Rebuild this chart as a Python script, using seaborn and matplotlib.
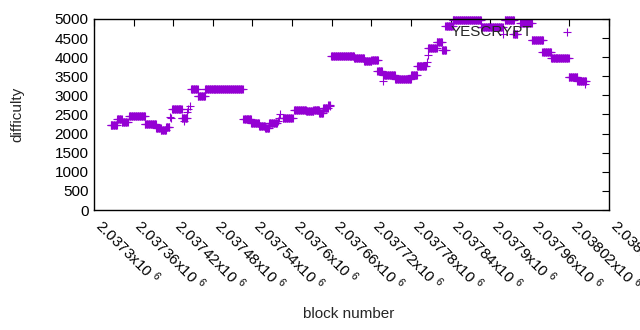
import seaborn as sns
import matplotlib
matplotlib.use('Agg')
import matplotlib.pyplot as plt
import pandas as pd
import numpy as np

# blocks come in runs of consecutive heights with the same difficulty
base = 2037300
run_first = [25, 35, 42, 53, 77, 94, 101, 109, 115, 116, 118, 133, 136, 141, 143, 145,
             147, 157, 168, 226, 238, 250, 259, 265, 278, 280, 282, 286, 303, 321, 332,
             341, 347, 355, 357, 359, 394, 409, 420, 429, 437, 438, 456, 480, 489, 505,
             506, 506, 519, 527, 532, 543, 586, 620, 622, 635, 645, 663, 679, 692, 719,
             732, 744]
run_last = [35, 42, 51, 77, 94, 101, 109, 114, 115, 116, 133, 141, 136, 141, 143, 145,
            157, 168, 225, 238, 250, 259, 265, 277, 278, 280, 282, 301, 321, 332, 341,
            347, 354, 357, 357, 394, 409, 420, 430, 436, 437, 456, 480, 489, 503, 505,
            506, 519, 527, 533, 543, 586, 619, 620, 636, 641, 663, 680, 692, 719, 732,
            745, 744]
run_diff = [2215, 2395, 2305, 2450, 2240, 2150, 2095, 2160, 2440, 2400, 2657, 2420, 2340,
            2573, 2645, 2730, 3160, 2985, 3160, 2370, 2290, 2200, 2150, 2290, 2330, 2420,
            2500, 2420, 2605, 2590, 2620, 2540, 2670, 2750, 2730, 4040, 3970, 3900, 3927,
            3640, 3385, 3547, 3430, 3534, 3757, 3880, 4060, 4228, 4385, 4200, 4817, 4980,
            4800, 4600, 4975, 4616, 4887, 4440, 4128, 3971, 3469, 3390, 3300]

blocks = []
diffs = []
for f, l, d in zip(run_first, run_last, run_diff):
    for b in range(f, l + 1):
        blocks.append(base + b)
        diffs.append(d)
df = pd.DataFrame({'block': blocks, 'difficulty': diffs})

xticks = [base + 60 * k for k in range(14)]
yticks = list(range(0, 5001, 500))

sns.set_style('white')
plt.rcParams['font.family'] = ['Liberation Sans', 'DejaVu Sans']
plt.rcParams['mathtext.fontset'] = 'custom'
plt.rcParams['mathtext.rm'] = 'Liberation Sans'
plt.rcParams['mathtext.default'] = 'regular'
plt.rcParams['font.size'] = 11

purple = '#9400D3'
fig = plt.figure(figsize=(6.4, 3.3), dpi=100)
ax = fig.add_axes([94 / 640, 120 / 330, 515 / 640, 191 / 330])

sns.scatterplot(data=df, x='block', y='difficulty', marker='+', color=purple,
                s=26, linewidth=0.8, ax=ax, label='YESCRYPT', clip_on=False)

ax.set_xlim(base, base + 780)
ax.set_ylim(0, 5000)
ax.set_xticks(xticks)
ax.set_xticklabels([f'{v / 1e6:g}x10 $^{{6}}$' for v in xticks],
                   rotation=-45, ha='left', va='baseline', rotation_mode='anchor')
ax.set_yticks(yticks)
ax.tick_params(direction='in', length=5, width=0.8, top=True, right=True,
               labelsize=11, colors='black', pad=4)
ax.tick_params(axis='x', pad=12)
for s in ax.spines.values():
    s.set_color('black')
    s.set_linewidth(1)

ax.set_xlabel('block number', fontsize=11)
ax.set_ylabel('difficulty', fontsize=11)
ax.xaxis.set_label_coords(0.495, -0.51)
ax.yaxis.set_label_coords(-0.135, 0.5)

ax.legend(loc='center right', bbox_to_anchor=(0.926, 0.932), frameon=False,
          markerfirst=False, handlelength=0.5, handletextpad=2.0, borderpad=0,
          borderaxespad=0, fontsize=11)

fig.savefig('out.png', dpi=100)
